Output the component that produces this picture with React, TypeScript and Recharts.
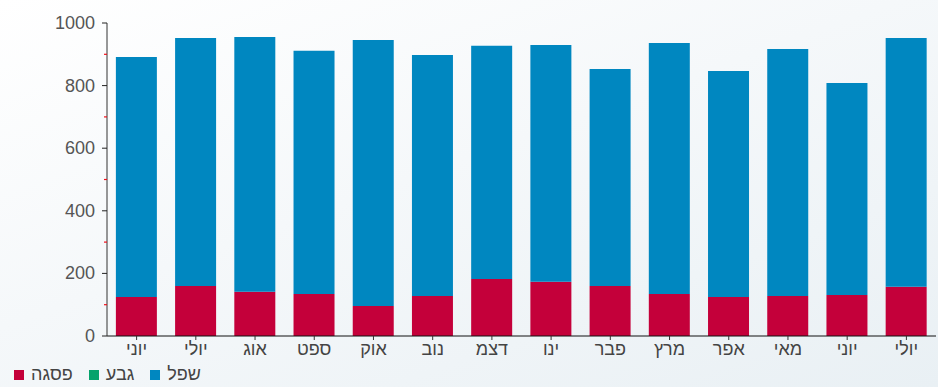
import React from 'react';
import { BarChart, Bar, XAxis, YAxis, Legend } from 'recharts';

// months left to right
const months = ['יוני', 'יולי', 'אוג', 'ספט', 'אוק', 'נוב', 'דצמ', 'ינו', 'פבר', 'מרץ', 'אפר', 'מאי', 'יוני', 'יולי'];
const peak = [125, 160, 141, 134, 96, 128, 182, 173, 160, 134, 125, 128, 131, 157];
const mid = [0, 0, 0, 0, 0, 0, 0, 0, 0, 0, 0, 0, 0, 0];
const low = [766, 792, 814, 777, 850, 770, 745, 757, 693, 802, 722, 789, 677, 795];
const yTicks = [0, 100, 200, 300, 400, 500, 600, 700, 800, 900, 1000];
const seriesOrder = ['peak', 'mid', 'low'];

const data = months.map((m, i) => ({ month: m, peak: peak[i], mid: mid[i], low: low[i] }));

const FONT = '"Liberation Sans", Arial, sans-serif';

const YTick = (props: any) => {
  const { x, y, payload } = props;
  const axisX = x + 12;
  const major = payload.value % 200 === 0;
  if (!major) {
    return <line x1={axisX - 3} x2={axisX} y1={y} y2={y} stroke="#f0101a" strokeWidth={1.2} />;
  }
  return (
    <g>
      <line x1={axisX - 5} x2={axisX} y1={y} y2={y} stroke="#222" strokeWidth={1} />
      <text x={x} y={y} dy={6} textAnchor="end" fill="#555" fontSize={18} fontFamily={FONT}>
        {payload.value}
      </text>
    </g>
  );
};

const App: React.FC = () => {
  return (
    <div
      style={{
        position: 'absolute',
        left: 0,
        top: 0,
        width: 938,
        height: 387,
        background: 'linear-gradient(160deg, #ffffff 0%, #f5f8fa 45%, #e9f0f4 100%)',
      }}
    >
      <BarChart
        width={938}
        height={387}
        data={data}
        margin={{ top: 23, right: 2, left: 0, bottom: 0 }}
        barCategoryGap="15%"
      >
        <XAxis
          dataKey="month"
          axisLine={{ stroke: '#111' }}
          tickLine={{ stroke: '#333' }}
          tickSize={4}
          height={28}
          interval={0}
          tick={{ fill: '#444', fontSize: 18, fontFamily: FONT }}
        />
        <YAxis
          width={107}
          domain={[0, 1000]}
          ticks={yTicks}
          interval={0}
          tickLine={false}
          tickSize={5}
          tickMargin={7}
          axisLine={{ stroke: '#333' }}
          tick={<YTick />}
        />
        <Legend
          verticalAlign="bottom"
          align="left"
          iconType="square"
          iconSize={10}
          height={23}
          itemSorter={(item: any) => seriesOrder.indexOf(item.dataKey)}
          wrapperStyle={{ left: 14, fontFamily: FONT, fontSize: 18 }}
          formatter={(v: string) => (
            <span style={{ color: '#444', marginLeft: 3, marginRight: 6 }}>{v}</span>
          )}
        />
        <Bar dataKey="peak" name="פסגה" stackId="a" fill="#c4003a" isAnimationActive={false} />
        <Bar dataKey="mid" name="גבע" stackId="a" fill="#05a36c" isAnimationActive={false} />
        <Bar dataKey="low" name="שפל" stackId="a" fill="#0087c0" isAnimationActive={false} />
      </BarChart>
    </div>
  );
};

export default App;
